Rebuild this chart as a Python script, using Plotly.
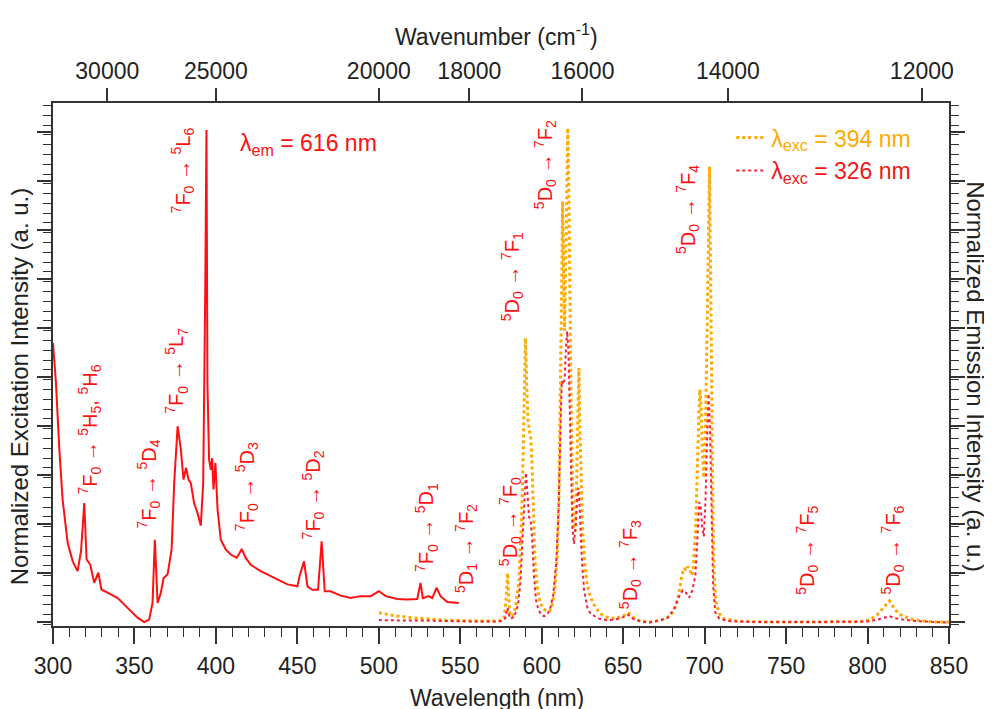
import plotly.graph_objects as go

# ---------------- data ----------------
ex_nm = [300, 301.8, 303.9, 305.9, 309, 312.1, 315.1, 317.2, 319.2, 320.6, 322.9, 325.3, 327.8, 329.8,
         333.5, 339.7, 345.8, 351.9, 356, 359, 361.1, 362.5, 364.2, 366.2, 367.9, 370.3, 372.8, 374.4,
         376.5, 378.5, 380.1, 381.7, 383.2, 384.6, 386.6, 388.7, 390.7, 392.2, 393.5, 394.2, 394.8,
         395.8, 396.9, 397.7, 398.5, 399.7, 401, 403, 406.1, 409.1, 412.8, 415.9, 418.3, 421.4, 427.5,
         435.7, 443.9, 450, 451.6, 454.1, 456.2, 459.2, 462.7, 464.9, 466.8, 470.4, 476.6, 482.7,
         488.8, 495, 500.1, 504.2, 511.3, 517.5, 523.6, 525.6, 527, 530.7, 532.8, 535.4, 537.9, 542, 549.1]
ex_int = [0.575, 0.494, 0.357, 0.255, 0.167, 0.129, 0.109, 0.150, 0.248, 0.133, 0.122, 0.085, 0.106, 0.071,
          0.065, 0.054, 0.034, 0.014, 0.005, 0.010, 0.044, 0.173, 0.044, 0.065, 0.095, 0.102, 0.153, 0.289,
          0.405, 0.357, 0.296, 0.320, 0.296, 0.289, 0.248, 0.228, 0.202, 0.289, 0.70, 1.010, 0.493,
          0.337, 0.316, 0.340, 0.276, 0.330, 0.235, 0.173, 0.153, 0.143, 0.136, 0.154, 0.136, 0.122, 0.109,
          0.095, 0.082, 0.078, 0.102, 0.129, 0.078, 0.071, 0.071, 0.170, 0.068, 0.068, 0.059, 0.054,
          0.058, 0.058, 0.068, 0.058, 0.052, 0.051, 0.052, 0.085, 0.054, 0.058, 0.054, 0.075, 0.058, 0.046, 0.044]

em394_nm = [500, 505, 510, 520, 530, 540, 550, 560, 570, 575, 577, 578.3, 579, 579.7, 580.5, 582, 584, 586,
            587.5, 588.5, 589.3, 590, 590.7, 591.5, 592.5, 593.3, 594, 595, 596, 597.5, 599, 601, 603, 605,
            606.5, 608, 609.5, 610.5, 611.5, 612.3, 612.8, 613.3, 614, 614.8, 615.5, 616, 616.6, 617.3, 618,
            618.8, 619.6, 620.5, 621.5, 622.3, 622.8, 623.3, 624, 625, 626.5, 628, 630, 633, 636, 640, 645,
            650, 652.5, 654, 657, 660, 665, 670, 675, 679, 682, 684, 686, 687.5, 688.7, 689.7, 691, 692, 693,
            694.5, 695.8, 697, 697.8, 698.6, 699.5, 700.5, 701.5, 702.3, 703, 703.7, 704.5, 705.2, 706, 707,
            709, 712, 720, 740, 760, 780, 795, 801, 806, 810, 813.5, 816, 819, 823, 828, 835, 842, 850]
em394_int = [0.024, 0.021, 0.018, 0.014, 0.011, 0.009, 0.008, 0.007, 0.007, 0.008, 0.015, 0.06, 0.105, 0.06,
             0.018, 0.018, 0.035, 0.09, 0.2, 0.33, 0.48, 0.585, 0.5, 0.42, 0.395, 0.38, 0.33, 0.2, 0.12, 0.07,
             0.045, 0.032, 0.027, 0.028, 0.04, 0.07, 0.14, 0.25, 0.45, 0.7, 0.864, 0.7, 0.6, 0.75, 0.95, 1.014,
             0.9, 0.65, 0.45, 0.3, 0.2, 0.19, 0.3, 0.45, 0.524, 0.42, 0.3, 0.2, 0.12, 0.08, 0.055, 0.035, 0.022,
             0.015, 0.012, 0.017, 0.024, 0.022, 0.013, 0.008, 0.005, 0.007, 0.011, 0.018, 0.035, 0.06, 0.1,
             0.115, 0.11, 0.118, 0.112, 0.1, 0.11, 0.2, 0.35, 0.48, 0.45, 0.35, 0.3, 0.4, 0.6, 0.8, 0.935, 0.7,
             0.4, 0.2, 0.09, 0.045, 0.022, 0.012, 0.007, 0.005, 0.005, 0.005, 0.006, 0.009, 0.02, 0.035, 0.048,
             0.035, 0.022, 0.016, 0.01, 0.007, 0.005, 0.005]

em326_nm = [500, 510, 520, 530, 540, 550, 560, 570, 575, 577.5, 579, 580.5, 583, 585.5, 587, 588.3, 589.5,
            590.3, 591.2, 592.2, 593.3, 594.2, 595.2, 596.5, 598, 600, 601.5, 603, 605, 607, 609, 610.5, 611.5,
            612.3, 613.2, 614, 614.8, 615.6, 616.4, 617.2, 618, 618.8, 619.8, 620.8, 621.8, 622.6, 623.4, 624.5,
            626, 628, 630, 635, 640, 645, 650, 653, 656, 660, 666, 672, 677, 681, 684, 686.5, 688.5, 690.5,
            692.5, 694.3, 695.5, 696.7, 697.6, 698.5, 699.5, 700.5, 701.5, 702.4, 703.3, 704.2, 705.2, 706.5,
            709, 715, 730, 760, 790, 800, 806, 810, 813.5, 817, 822, 830, 840, 850]
em326_int = [0.009, 0.008, 0.008, 0.008, 0.007, 0.007, 0.006, 0.006, 0.007, 0.012, 0.034, 0.012, 0.015, 0.04,
             0.09, 0.18, 0.28, 0.31, 0.27, 0.22, 0.211, 0.17, 0.1, 0.05, 0.03, 0.019, 0.017, 0.019, 0.03, 0.06,
             0.13, 0.25, 0.4, 0.497, 0.49, 0.5, 0.56, 0.599, 0.56, 0.45, 0.3, 0.2, 0.165, 0.2, 0.26, 0.279, 0.23,
             0.14, 0.07, 0.035, 0.022, 0.012, 0.009, 0.01, 0.015, 0.02, 0.012, 0.007, 0.004, 0.008, 0.013, 0.03,
             0.055, 0.07, 0.065, 0.055, 0.07, 0.1, 0.17, 0.25, 0.24, 0.2, 0.18, 0.25, 0.38, 0.471, 0.4, 0.22,
             0.08, 0.025, 0.012, 0.007, 0.005, 0.005, 0.005, 0.006, 0.01, 0.014, 0.017, 0.013, 0.01, 0.007,
             0.005, 0.004]

wavenumber_ticks = [30000, 25000, 20000, 18000, 16000, 14000, 12000]

# transition labels: (text, wavelength position, intensity position)
labels = [
    ("<sup>7</sup>F<sub>0</sub> → <sup>5</sup>H<sub>5</sub>, <sup>5</sup>H<sub>6</sub>", 322.7, 0.398),
    ("<sup>7</sup>F<sub>0</sub> → <sup>5</sup>D<sub>4</sub>", 358.9, 0.288),
    ("<sup>7</sup>F<sub>0</sub> → <sup>5</sup>L<sub>7</sub>", 376.0, 0.518),
    ("<sup>7</sup>F<sub>0</sub> → <sup>5</sup>L<sub>6</sub>", 379.7, 0.927),
    ("<sup>7</sup>F<sub>0</sub> → <sup>5</sup>D<sub>3</sub>", 418.9, 0.282),
    ("<sup>7</sup>F<sub>0</sub> → <sup>5</sup>D<sub>2</sub>", 460.0, 0.265),
    ("<sup>7</sup>F<sub>0</sub> → <sup>5</sup>D<sub>1</sub>", 529.3, 0.198),
    ("<sup>5</sup>D<sub>1</sub> → <sup>7</sup>F<sub>2</sub>", 553.8, 0.155),
    ("<sup>5</sup>D<sub>0</sub> → <sup>7</sup>F<sub>0</sub>", 580.8, 0.210),
    ("<sup>5</sup>D<sub>0</sub> → <sup>7</sup>F<sub>1</sub>", 582.0, 0.710),
    ("<sup>5</sup>D<sub>0</sub> → <sup>7</sup>F<sub>2</sub>", 602.3, 0.939),
    ("<sup>5</sup>D<sub>0</sub> → <sup>7</sup>F<sub>3</sub>", 654.4, 0.122),
    ("<sup>5</sup>D<sub>0</sub> → <sup>7</sup>F<sub>4</sub>", 689.9, 0.847),
    ("<sup>5</sup>D<sub>0</sub> → <sup>7</sup>F<sub>5</sub>", 762.9, 0.151),
    ("<sup>5</sup>D<sub>0</sub> → <sup>7</sup>F<sub>6</sub>", 815.6, 0.153),
]

# ---------------- styling ----------------
RED = "#FF1010"
ORANGE = "#FFAA00"
PINK = "#F5203C"
FONT = "Liberation Sans, Arial, sans-serif"
AX = "#333333"

fig = go.Figure()
fig.add_trace(go.Scatter(x=ex_nm, y=ex_int, mode="lines", line=dict(color=RED, width=2),
                         showlegend=False, name="excitation"))
fig.add_trace(go.Scatter(x=em394_nm, y=em394_int, mode="lines",
                         line=dict(color=ORANGE, width=3, dash="dot"),
                         name='<span style="color:#FFAA00">λ<sub>exc</sub> = 394 nm</span>'))
fig.add_trace(go.Scatter(x=em326_nm, y=em326_int, mode="lines",
                         line=dict(color=PINK, width=2, dash="dot"),
                         name='<span style="color:#F01818">λ<sub>exc</sub> = 326 nm</span>'))
# empty trace to attach the top (wavenumber) axis
fig.add_trace(go.Scatter(x=[], y=[], xaxis="x2", yaxis="y", showlegend=False, hoverinfo="skip"))

annotations = []
for txt, xv, yv in labels:
    annotations.append(dict(x=xv, y=yv, xref="x", yref="y", text=txt, textangle=-90,
                            showarrow=False, xanchor="center", yanchor="middle",
                            font=dict(family=FONT, size=20, color=RED)))
annotations.append(dict(x=413.4, y=0.98, xref="x", yref="y", text="λ<sub>em</sub> = 616 nm",
                        showarrow=False, xanchor="left", yanchor="middle",
                        font=dict(family=FONT, size=23, color=RED)))
annotations.append(dict(x=-0.0365, y=0.459, xref="paper", yref="paper",
                        text="Normalized Excitation Intensity (a. u.)", textangle=-90,
                        showarrow=False, xanchor="center", yanchor="middle",
                        font=dict(family=FONT, size=24, color="#222")))
annotations.append(dict(x=1.030, y=0.476, xref="paper", yref="paper",
                        text="Normalized Emission Intensity (a. u.)", textangle=90,
                        showarrow=False, xanchor="center", yanchor="middle",
                        font=dict(family=FONT, size=24, color="#222")))
annotations.append(dict(x=0.4955, y=-0.1377, xref="paper", yref="paper",
                        text="Wavelength (nm)", showarrow=False, xanchor="center", yanchor="middle",
                        font=dict(family=FONT, size=23, color="#222")))
annotations.append(dict(x=0.4955, y=1.130, xref="paper", yref="paper",
                        text="Wavenumber (cm<sup>-1</sup>)", showarrow=False, xanchor="center",
                        yanchor="middle", font=dict(family=FONT, size=23, color="#222")))

# the page body adds an 8px offset, so the figure is 8px smaller and margins are shifted
fig.update_layout(
    width=984, height=701,
    margin=dict(l=45, r=43, t=95, b=83),
    paper_bgcolor="white", plot_bgcolor="white",
    font=dict(family=FONT, size=23, color="#222"),
    showlegend=True,
    legend=dict(x=0.757, y=0.975, xanchor="left", yanchor="top", bgcolor="rgba(0,0,0,0)",
                font=dict(family=FONT, size=23), tracegroupgap=0),
    annotations=annotations,
    xaxis=dict(range=[300, 850], tickmode="linear", tick0=300, dtick=50, ticks="outside",
               ticklen=16, tickwidth=1.5, tickcolor=AX, showline=True, linewidth=1.5, linecolor=AX,
               showgrid=False, zeroline=False, mirror=False, ticklabelstandoff=3,
               tickfont=dict(family=FONT, size=23, color="#222"),
               minor=dict(dtick=10, ticks="outside", ticklen=9, tickwidth=1.2, tickcolor=AX)),
    xaxis2=dict(overlaying="x", side="top", anchor="y", range=[300, 850],
                tickmode="array", tickvals=[1e7 / w for w in wavenumber_ticks],
                ticktext=[str(w) for w in wavenumber_ticks], ticks="outside", ticklen=13,
                tickwidth=1.5, tickcolor=AX, showline=True, linewidth=1.5, linecolor=AX,
                showgrid=False, zeroline=False,
                tickfont=dict(family=FONT, size=23, color="#222")),
    yaxis=dict(range=[-0.003, 1.065], tick0=0.005, dtick=0.1, ticks="outside", ticklen=14,
               tickwidth=1.5, tickcolor=AX, showticklabels=False, showline=True, linewidth=1.5,
               linecolor=AX, mirror="ticks", showgrid=False, zeroline=False,
               minor=dict(dtick=0.02, ticks="outside", ticklen=8, tickwidth=1.2, tickcolor=AX)),
)

fig.write_html("out.html")
